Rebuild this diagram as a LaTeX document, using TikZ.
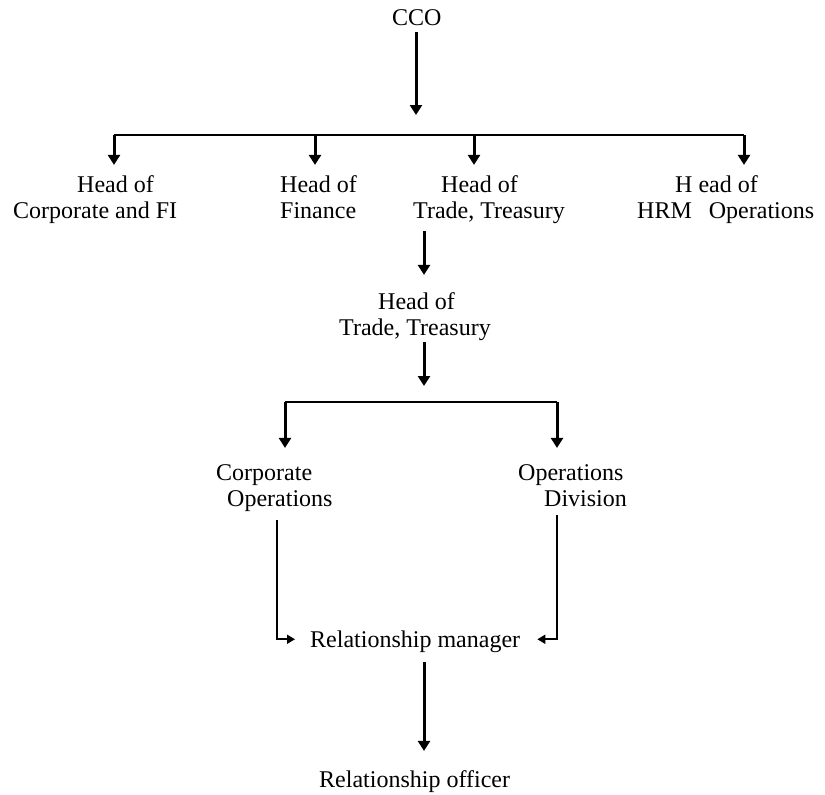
\documentclass[tikz,border=0pt]{standalone}
\usepackage{fontspec}
\setmainfont{Liberation Serif}
\usetikzlibrary{arrows.meta}
\tikzset{
    post/.style={font=\fontsize{24}{26}\selectfont, align=left, inner sep=0pt, anchor=base west},
    link/.style={draw=black, line width=3pt, -{Triangle[width=12pt,length=10pt]}},
    bar/.style={draw=black, line width=2pt},
    feed/.style={draw=black, line width=1.7pt, -{Triangle[width=9pt,length=8pt]}}
}
\begin{document}
\begin{tikzpicture}[x=1pt,y=-1pt]
\useasboundingbox (0,0) rectangle (825,795);
% posts (anchored on the baseline of the last line)
\node[post] (cco) at (392,25) {CCO};
\node[post] (hcorp) at (13,218) {\hspace*{64pt}Head of\\Corporate and FI};
\node[post] (hfin) at (280,218) {Head of\\Finance};
\node[post] (htrade) at (413,218) {\hspace*{28pt}Head of\\Trade, Treasury};
\node[post] (hhrm) at (637,218) {\hspace*{38pt}H ead of\\HRM\hspace{17pt}Operations};
\node[post] (htrade2) at (339,335) {\hspace*{39pt}Head of\\Trade, Treasury};
\node[post] (corpops) at (216,506) {Corporate\\\hspace*{11pt}Operations};
\node[post] (opsdiv) at (518,506) {Operations\\\hspace*{26pt}Division};
\node[post] (relman) at (310,647) {Relationship manager};
\node[post] (relofc) at (319,787) {Relationship officer};
% columns and junctions
\coordinate (top) at (416,115);
\coordinate (b1l) at (114,135);
\coordinate (b1f) at (315,135);
\coordinate (b1t) at (474,135);
\coordinate (b1r) at (744,135);
\coordinate (c2) at (424,0);
\coordinate (mid) at (424,386);
\coordinate (b2l) at (285,402);
\coordinate (b2r) at (557,402);
\coordinate (dl) at (277,0);
\coordinate (dr) at (557,0);
% upper tree
\draw[style={link}, shorten <=7pt] (cco.south -| top) -- (top);
\draw[style={bar}] (b1l) -- (b1r);
\draw[style={link}, shorten >=10pt] (b1l) -- (b1l |- hcorp.north);
\draw[style={link}, shorten >=10pt] (b1f) -- (b1f |- hfin.north);
\draw[style={link}, shorten >=10pt] (b1t) -- (b1t |- htrade.north);
\draw[style={link}, shorten >=10pt] (b1r) -- (b1r |- hhrm.north);
\draw[style={link}, shorten <=8pt, shorten >=17pt] (htrade.south -| c2) -- (htrade2.north -| c2);
% lower tree
\draw[style={link}, shorten <=2pt] (htrade2.south -| c2) -- (mid);
\draw[style={bar}] (b2l) -- (b2r);
\draw[style={link}, shorten >=16pt] (b2l) -- (b2l |- corpops.north);
\draw[style={link}, shorten >=16pt] (b2r) -- (b2r |- opsdiv.north);
\draw[style={feed}, shorten <=9pt, shorten >=15pt] (corpops.south -| dl) |- ([yshift=2pt]relman.west);
\draw[style={feed}, shorten <=9pt, shorten >=17pt] (opsdiv.south -| dr) |- ([yshift=2pt]relman.east);
\draw[style={link}, shorten <=10pt, shorten >=19pt] (relman.south -| c2) -- (relofc.north -| c2);
\end{tikzpicture}
\end{document}
